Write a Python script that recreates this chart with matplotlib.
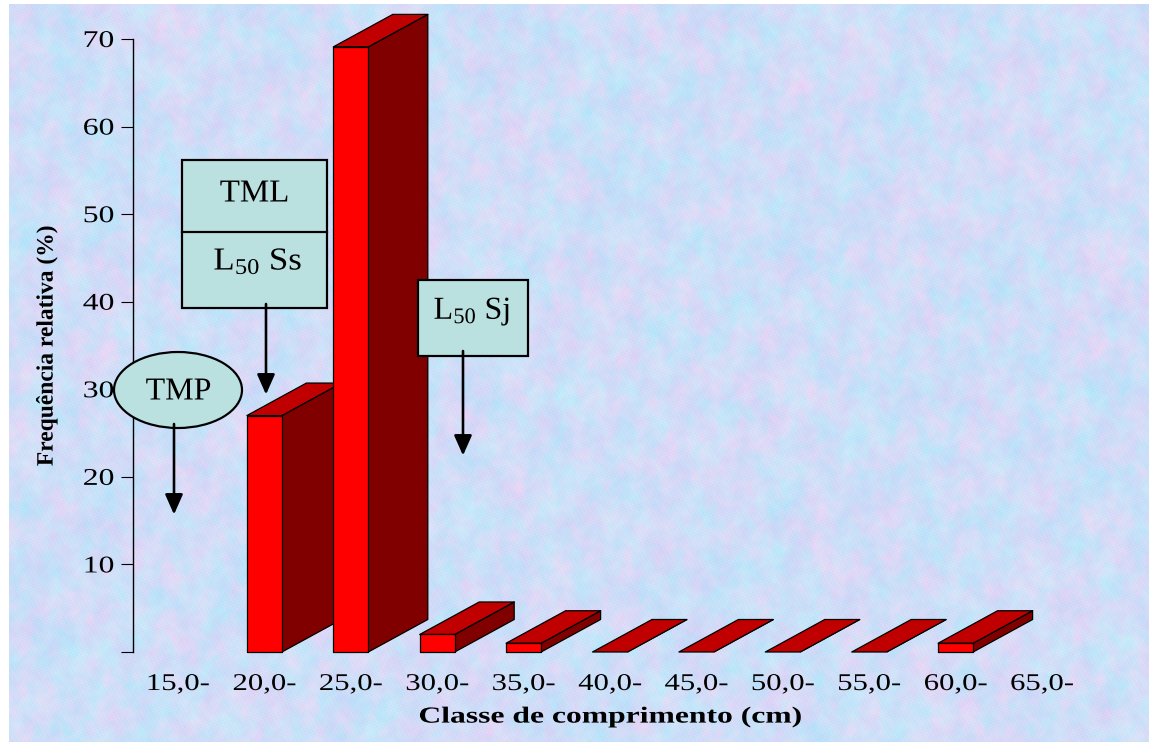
import numpy as np
import matplotlib
matplotlib.use("Agg")
import matplotlib.pyplot as plt
from matplotlib.patches import Polygon, Rectangle, Ellipse, FancyArrowPatch
from matplotlib.patheffects import AbstractPathEffect
from matplotlib.transforms import Affine2D

# ---------- data ----------
class_labels = ["15,0-", "20,0-", "25,0-", "30,0-", "35,0-", "40,0-",
                "45,0-", "50,0-", "55,0-", "60,0-", "65,0-"]
frequencies = [None, 27.0, 69.1, 2.0, 1.0, 0.0, 0.0, 0.0, 0.0, 1.0, None]
y_ticks = [0, 10, 20, 30, 40, 50, 60, 70]
y_tick_labels = ["", "10", "20", "30", "40", "50", "60", "70"]
x_title = "Classe de comprimento (cm)"
y_title = "Frequência relativa (%)"

# ---------- style ----------
W, H = 1149, 742
plt.rcParams["font.family"] = ["Liberation Serif", "DejaVu Serif"]
plt.rcParams["mathtext.fontset"] = "custom"
plt.rcParams["mathtext.rm"] = "Liberation Serif"
plt.rcParams["mathtext.default"] = "rm"
PX = 72 / 100
FRONT, TOP, SIDE = "#FF0000", "#C00000", "#800000"
BOX = "#BBE0E0"


class Stretch(AbstractPathEffect):
    """Widen the glyphs along the text direction, like the reference's stretched type."""
    def __init__(self, sx, anchor="center"):
        super().__init__()
        self.sx, self.anchor = sx, anchor

    def draw_path(self, renderer, gc, tpath, affine, rgbFace=None):
        ext = tpath.get_extents()
        a = {"left": ext.x0, "right": ext.x1, "center": (ext.x0 + ext.x1) / 2}[self.anchor]
        t = Affine2D().translate(-a, 0).scale(self.sx, 1).translate(a, 0) + affine
        renderer.draw_path(gc, tpath, t, rgbFace)


fig = plt.figure(figsize=(W / 100, H / 100), dpi=100, facecolor="white")

# ---------- mottled backdrop (deterministic sum of waves, not data) ----------
bg = fig.add_axes([9 / W, 0, 1 - 9 / W, 1 - 4 / H], zorder=0)
yy, xx = np.mgrid[0:H - 4, 0:W - 9].astype(float)
def waves(fx, fy, ph):
    return (np.sin(xx * fx + ph + 1.7 * np.sin(yy * fy * 0.7 + ph)) *
            np.sin(yy * fy - ph + 1.3 * np.sin(xx * fx * 1.3 + 2 * ph)))
pink = .6 * waves(.037, .043, .4) + waves(.083, .071, 2.1) + .7 * waves(.19, .17, 3.7) + .4 * waves(.41, .37, 1.1)
blue = .6 * waves(.029, .047, 1.9) + waves(.091, .067, .8) + .7 * waves(.17, .21, 5.1) + .4 * waves(.43, .39, 2.9)
grain = np.sin(xx * 1.13 + yy * .71) * np.sin(xx * .37 - yy * 1.57) + np.sin(xx * 2.3 + yy * 1.9)
base = np.array([207, 222, 248], float)
tex = base + pink[..., None] * np.array([9, -5, -1]) + blue[..., None] * np.array([-6, -2, 0])
tex += grain[..., None] * 2.5
bg.imshow(np.clip(tex, 0, 255).astype(np.uint8), aspect="auto", interpolation="bilinear")
bg.axis("off")

# ---------- chart axes ----------
X0, DX = 178.0, 86.4          # pixel of first category, category spacing
left_px, right_px = 133, 1090
ax = fig.add_axes([left_px / W, (H - 652) / H, (right_px - left_px) / W, (652 - 39) / H], zorder=1)
ax.patch.set_alpha(0)
ax.set_xlim((left_px - X0) / DX, (right_px - X0) / DX)
ax.set_ylim(0, 70)
for s in ("top", "right", "bottom"):
    ax.spines[s].set_visible(False)
ax.spines["left"].set_linewidth(1.0)
ax.spines["left"].set_color("black")

ax.set_yticks(y_ticks, y_tick_labels)
ax.tick_params(axis="y", length=12 * PX, width=0.8, pad=7 * PX, labelsize=24 * PX)
for t in ax.get_yticklabels():
    t.set_path_effects([Stretch(1.32, "right")])
ax.set_xticks(range(len(class_labels)), class_labels)
ax.tick_params(axis="x", length=0, pad=22 * PX, labelsize=24 * PX)
for t in ax.get_xticklabels():
    t.set_path_effects([Stretch(1.28, "center")])

# 3-D look of the bars
bar_w = 35 / DX
dep_x = 59.5 / DX
dep_y = 32.5 * 70 / (652 - 39)
for i, v in enumerate(frequencies):
    if v is None:
        continue
    l, r = i - bar_w / 2, i + bar_w / 2
    z = 3 + i * 0.01
    kw = dict(edgecolor="black", linewidth=0.9, clip_on=False, zorder=z, joinstyle="round")
    ax.add_patch(Polygon([(r, 0), (r + dep_x, dep_y), (r + dep_x, v + dep_y), (r, v)], facecolor=SIDE, **kw))
    ax.add_patch(Polygon([(l, v), (r, v), (r + dep_x, v + dep_y), (l + dep_x, v + dep_y)], facecolor=TOP, **kw))
    if v > 0:
        ax.add_patch(Rectangle((l, 0), bar_w, v, facecolor=FRONT, **kw))

# axis titles, in figure pixels
fig.text(610.5 / W, 1 - 717 / H, x_title, ha="center", va="center", fontsize=23 * PX, fontweight="bold",
         path_effects=[Stretch(1.375)], zorder=5)
fig.text(47 / W, 1 - 346 / H, y_title, ha="center", va="center", rotation=90, fontsize=23.5 * PX,
         fontweight="bold", path_effects=[Stretch(1.0)], zorder=5)

# ---------- annotation overlay, in pixels ----------
ov = fig.add_axes([0, 0, 1, 1], zorder=2)
ov.set_xlim(0, W); ov.set_ylim(H, 0); ov.axis("off")
LW = 2.2 * PX
ov.add_patch(Rectangle((182, 160), 145, 148, facecolor=BOX, edgecolor="black", linewidth=LW))
ov.plot([182, 327], [232, 232], color="black", linewidth=LW)
ov.add_patch(Rectangle((418, 280), 110, 76, facecolor=BOX, edgecolor="black", linewidth=LW))
ov.add_patch(Ellipse((178, 390), 128, 76, facecolor=BOX, edgecolor="black", linewidth=LW))

TXT = 32 * PX
def label(x, y, s, sx=1.0):
    ov.text(x, y, s, ha="center", va="center", fontsize=TXT, color="black", path_effects=[Stretch(sx)])
label(254.5, 194, "TML", 1.03)
label(258, 262, "L$_{50}$ Ss", 1.09)
label(472, 312, "L$_{50}$ Sj")
label(178.5, 392, "TMP")

for x, y0, y1 in [(266, 304, 394.5), (463, 351, 455.5), (174, 424, 514.5)]:
    ov.add_patch(FancyArrowPatch((x, y0), (x, y1), arrowstyle="-|>,head_length=0.61,head_width=0.27",
                                 mutation_scale=20, shrinkA=0, shrinkB=0, color="black",
                                 linewidth=2.6 * PX, zorder=6))

fig.savefig("out.png", dpi=100)
